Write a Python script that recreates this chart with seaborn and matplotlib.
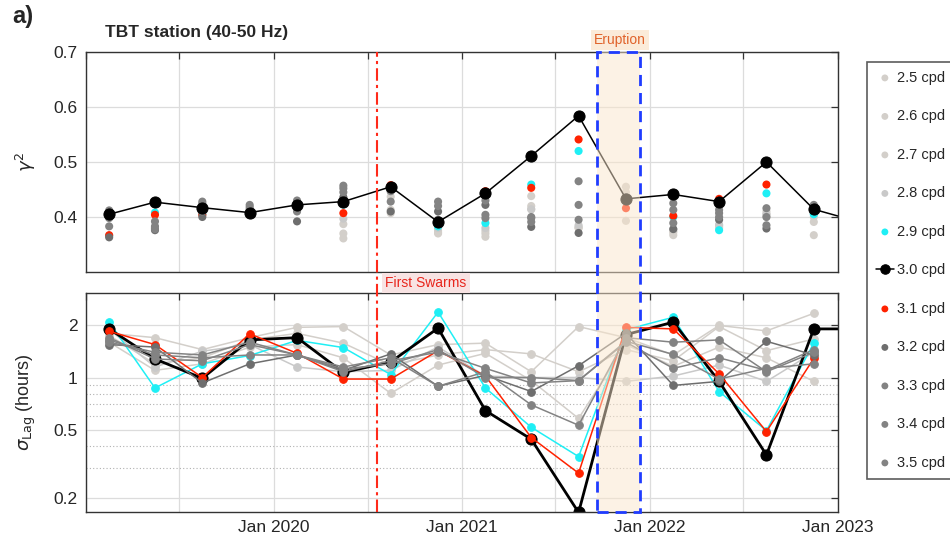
import numpy as np
import pandas as pd
import matplotlib
matplotlib.use('Agg')
import matplotlib.pyplot as plt
import matplotlib.dates as mdates
from matplotlib.ticker import FixedLocator, FuncFormatter, NullFormatter
import seaborn as sns

# ---- data ----
dates = pd.to_datetime(['2019-02-15', '2019-05-15', '2019-08-15', '2019-11-15',
                        '2020-02-15', '2020-05-15', '2020-08-15', '2020-11-15',
                        '2021-02-15', '2021-05-15', '2021-08-15', '2021-11-15',
                        '2022-02-15', '2022-05-15', '2022-08-15', '2022-11-15',
                        '2023-02-15'])

labels = ['2.5 cpd', '2.6 cpd', '2.7 cpd', '2.8 cpd', '2.9 cpd', '3.0 cpd',
          '3.1 cpd', '3.2 cpd', '3.3 cpd', '3.4 cpd', '3.5 cpd']

# coherence gamma^2 (top)
g25 = [0.400, 0.380, 0.410, 0.410, 0.420, 0.361, 0.407, 0.370, 0.364, 0.438, 0.382, 0.393, 0.367, 0.385, 0.410, 0.367]
g26 = [0.400, 0.380, 0.410, 0.410, 0.420, 0.370, 0.413, 0.372, 0.370, 0.420, 0.380, 0.445, 0.372, 0.380, 0.405, 0.391]
g27 = [0.400, 0.380, 0.410, 0.410, 0.420, 0.387, 0.437, 0.375, 0.375, 0.414, 0.380, 0.455, 0.375, 0.383, 0.400, 0.400]
g28 = [0.400, 0.380, 0.410, 0.410, 0.420, 0.397, 0.446, 0.380, 0.380, 0.414, 0.385, 0.430, 0.378, 0.386, 0.405, 0.405]
g29 = [0.366, 0.408, 0.405, 0.406, 0.420, 0.423, 0.455, 0.383, 0.389, 0.459, 0.520, 0.430, 0.400, 0.376, 0.443, 0.405]
g30 = [0.405, 0.427, 0.417, 0.408, 0.422, 0.428, 0.455, 0.391, 0.443, 0.511, 0.584, 0.433, 0.441, 0.428, 0.500, 0.414, 0.390]
g31 = [0.367, 0.404, 0.404, 0.405, 0.420, 0.407, 0.458, 0.390, 0.447, 0.453, 0.541, 0.416, 0.402, 0.433, 0.459, 0.414]
g32 = [0.363, 0.376, 0.400, 0.410, 0.392, 0.436, 0.410, 0.410, 0.422, 0.382, 0.371, 0.432, 0.378, 0.395, 0.379, 0.414]
g33 = [0.383, 0.378, 0.410, 0.414, 0.410, 0.445, 0.428, 0.428, 0.404, 0.391, 0.395, 0.433, 0.389, 0.400, 0.385, 0.417]
g34 = [0.398, 0.383, 0.424, 0.418, 0.425, 0.452, 0.447, 0.420, 0.398, 0.398, 0.422, 0.434, 0.413, 0.407, 0.400, 0.420]
g35 = [0.412, 0.392, 0.428, 0.422, 0.430, 0.457, 0.453, 0.395, 0.430, 0.400, 0.465, 0.436, 0.425, 0.413, 0.416, 0.422]

# sigma lag in hours (bottom)
s25 = [1.80, 1.70, 1.45, 1.70, 1.95, 1.97, 1.35, 1.55, 1.58, 1.08, 1.97, 1.70, 1.35, 2.00, 1.86, 2.35]
s26 = [1.75, 1.20, 1.30, 1.65, 1.80, 1.58, 1.18, 1.35, 1.45, 1.37, 1.08, 1.45, 1.25, 1.97, 1.43, 1.67]
s27 = [1.60, 1.10, 1.20, 1.50, 1.55, 1.30, 0.81, 1.18, 1.38, 0.96, 0.58, 1.55, 1.16, 1.50, 1.30, 0.95]
s28 = [1.90, 1.15, 1.42, 1.55, 1.15, 1.08, 1.10, 1.50, 1.02, 1.00, 1.00, 0.95, 1.02, 1.18, 0.95, 1.40]
s29 = [2.09, 0.87, 1.20, 1.34, 1.64, 1.49, 1.04, 2.39, 0.87, 0.516, 0.349, 1.89, 2.23, 0.83, 0.493, 1.58]
s30 = [1.91, 1.28, 0.99, 1.65, 1.70, 1.07, 1.23, 1.93, 0.644, 0.44, 0.166, 1.77, 2.09, 0.95, 0.357, 1.91, 1.91]
s31 = [1.85, 1.55, 1.00, 1.79, 1.38, 0.98, 0.98, 1.43, 1.02, 0.45, 0.28, 1.95, 1.91, 1.05, 0.487, 1.29]
s32 = [1.55, 1.50, 0.93, 1.20, 1.35, 1.10, 1.37, 0.89, 1.03, 0.83, 1.17, 1.80, 0.90, 0.95, 1.62, 1.35]
s33 = [1.60, 1.40, 1.35, 1.60, 1.35, 1.15, 1.30, 0.89, 1.08, 0.695, 0.53, 1.70, 1.60, 1.65, 1.08, 1.40]
s34 = [1.65, 1.35, 1.30, 1.35, 1.35, 1.08, 1.25, 1.40, 1.13, 0.93, 0.96, 1.60, 1.13, 1.30, 1.10, 1.45]
s35 = [1.70, 1.28, 1.25, 1.55, 1.35, 1.12, 1.20, 1.45, 1.00, 1.00, 0.96, 1.62, 1.36, 0.98, 1.13, 1.20]

top_vals = [g25, g26, g27, g28, g29, g30, g31, g32, g33, g34, g35]
bot_vals = [s25, s26, s27, s28, s29, s30, s31, s32, s33, s34, s35]

colors = ['#D3CFCA', '#D3CFCA', '#D3CFCA', '#C9C9C9', '#1FEFF5', '#000000',
          '#FF2200', '#6E6E6E', '#838383', '#838383', '#838383']

swarm_date = pd.Timestamp('2020-07-20')
erupt_start = pd.Timestamp('2021-09-19')
erupt_end = pd.Timestamp('2021-12-13')

# ---- style ----
sns.set_theme(style='white')
plt.rcParams['font.family'] = ['Liberation Sans', 'DejaVu Sans']

fig = plt.figure(figsize=(9.5, 5.39), dpi=100)
ax1 = fig.add_axes([86/950, 1-272/539, 752/950, 220/539])
ax2 = fig.add_axes([86/950, 1-512/539, 752/950, 219/539])

# top panel: dots, black line for 3.0 cpd
for lab, vals, c in zip(labels, top_vals, colors):
    df = pd.DataFrame({'date': dates[:len(vals)], 'val': vals})
    if lab == '3.0 cpd':
        sns.lineplot(data=df, x='date', y='val', ax=ax1, color=c, lw=1.1,
                     marker='o', markersize=8, markeredgecolor=c, label=lab)
    else:
        sns.scatterplot(data=df, x='date', y='val', ax=ax1, color=c, s=34,
                        edgecolor='none', label=lab)

# bottom panel: lines with markers
for lab, vals, c in zip(labels, bot_vals, colors):
    df = pd.DataFrame({'date': dates[:len(vals)], 'val': vals})
    big = lab == '3.0 cpd'
    sns.lineplot(data=df, x='date', y='val', ax=ax2, color=c,
                 lw=2.0 if big else 1.1, marker='o',
                 markersize=8 if big else 5.5, markeredgecolor=c)

handles, leg_labels = ax1.get_legend_handles_labels()
ax1.get_legend().remove()

xmin, xmax = pd.Timestamp('2019-01-01'), pd.Timestamp('2023-01-01')
for ax in (ax1, ax2):
    ax.set_xlim(xmin, xmax)
    ax.xaxis.set_major_locator(mdates.MonthLocator(bymonth=[1, 7]))
    ax.grid(True, which='major', color='#DCDCDC', lw=0.9)
    ax.tick_params(direction='in', top=True, right=True, length=5,
                   width=0.9, color='#333333', labelsize=12.5, pad=6)
    for sp in ax.spines.values():
        sp.set_color('#333333')
        sp.set_linewidth(1.0)
    ax.set_xlabel('')


def date_label(v, p):
    d = mdates.num2date(v)
    if d.month == 1 and d.year > 2019:
        return d.strftime('Jan %Y')
    return ''


ax1.set_ylim(0.3, 0.7)
ax1.set_yticks([0.4, 0.5, 0.6, 0.7])
ax1.set_yticklabels(['0.4', '0.5', '0.6', '0.7'])
ax1.tick_params(labelbottom=False)
ax1.set_ylabel(r'$\gamma^2$', fontsize=13)
ax1.yaxis.set_label_coords(-0.064, 0.5)

ax2.set_yscale('log')
ax2.set_ylim(0.167, 3.08)
ax2.yaxis.set_major_locator(FixedLocator([0.2, 0.5, 1, 2]))
ax2.yaxis.set_major_formatter(FuncFormatter(lambda v, p: '%g' % v))
ax2.yaxis.set_minor_locator(FixedLocator([0.3, 0.4, 0.6, 0.7, 0.8, 0.9]))
ax2.yaxis.set_minor_formatter(NullFormatter())
ax2.tick_params(axis='y', which='minor', length=0)
ax2.grid(True, which='minor', axis='y', color='#B0B0B0', lw=0.8, ls=(0, (1, 2)))
ax2.xaxis.set_major_formatter(FuncFormatter(date_label))
ax2.set_ylabel(r'$\sigma_{\rm Lag}$ (hours)', fontsize=13)
ax2.yaxis.set_label_coords(-0.064, 0.5)

# events spanning both panels
ytop = (1 - 52/539 - (1 - 512/539)) / (219/539)
ax2.axvline(swarm_date, ymin=0, ymax=ytop, clip_on=False, color='#FF2A1A',
            lw=1.5, ls=(0, (6, 2, 1.5, 2)), zorder=6)
ax2.axvspan(erupt_start, erupt_end, ymin=0, ymax=ytop, clip_on=False,
            facecolor=(0.98, 0.90, 0.80, 0.5), edgecolor='none', zorder=5)
ax2.axvspan(erupt_start, erupt_end, ymin=0, ymax=ytop, clip_on=False,
            facecolor='none', edgecolor='#1F3CFF', lw=2, ls=(0, (4, 2.5)), zorder=7)

fig.text(620/950, 1-40/539, 'Eruption', color='#E0622A', fontsize=10,
         ha='center', va='center',
         bbox=dict(boxstyle='square,pad=0.25', fc='#FBEBD9', ec='none'))
fig.text(385/950, 1-283/539, 'First Swarms', color='#E8251C', fontsize=10,
         ha='left', va='center',
         bbox=dict(boxstyle='square,pad=0.25', fc='#F8E3E3', ec='none'))

fig.text(105/950, 1-33/539, 'TBT station (40-50 Hz)', fontsize=12.5,
         fontweight='bold', ha='left', va='center')
fig.text(12/950, 1-17/539, 'a)', fontsize=17, fontweight='bold',
         ha='left', va='center')

leg = fig.legend(handles, leg_labels, loc='upper left',
                 bbox_to_anchor=(867/950, 1-62/539), frameon=True,
                 fancybox=False, edgecolor='#333333', fontsize=10.5,
                 labelspacing=1.68, handlelength=1.25, handletextpad=0.2,
                 borderpad=0.6, borderaxespad=0, markerscale=0.85)
leg.get_frame().set_linewidth(1.2)

fig.savefig('out.png', dpi=100)
